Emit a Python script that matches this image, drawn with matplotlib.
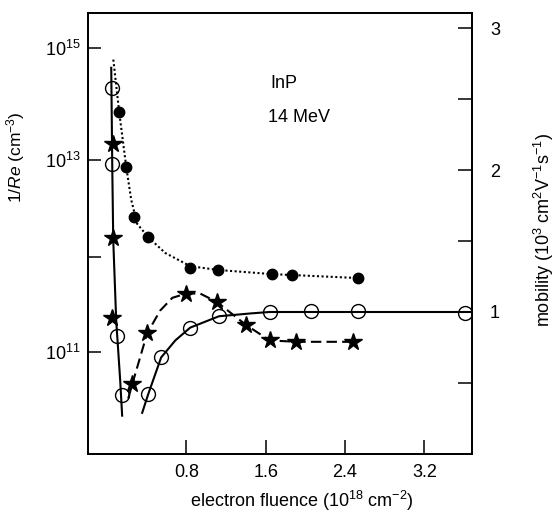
import numpy as np
import matplotlib
matplotlib.use('Agg')
import matplotlib.pyplot as plt
from matplotlib.ticker import NullLocator

plt.rcParams['font.family'] = ['Liberation Sans', 'DejaVu Sans']
plt.rcParams['mathtext.fontset'] = 'custom'
plt.rcParams['mathtext.rm'] = 'Liberation Sans'
plt.rcParams['mathtext.it'] = 'Liberation Sans:italic'

# 1/Re (filled circles, left axis) and its dotted fit
re_x = [0.124, 0.195, 0.275, 0.416, 0.84, 1.12, 1.66, 1.87, 2.53]
re_y = [7.2e13, 8.5e12, 2.6e12, 1.6e12, 7.6e11, 7.3e11, 6.6e11, 6.5e11, 6.0e11]
re_fit_x = [0.065, 0.124, 0.195, 0.245, 0.305, 0.416, 0.588, 0.84, 1.12, 1.66, 2.53]
re_fit_y = [6.2e14, 7.2e13, 8.5e12, 3.9e12, 2.2e12, 1.6e12, 1.1e12, 8.0e11, 7.3e11, 6.6e11, 6.0e11]

# mobility, open circles (right axis)
open_x = [0.054, 0.054, 0.104, 0.154, 0.416, 0.547, 0.84, 1.13, 1.64, 2.06, 2.53, 3.61]
open_y = [2.58, 2.04, 0.83, 0.415, 0.42, 0.68, 0.89, 0.97, 1.0, 1.01, 1.01, 0.99]
# solid fit: falling branch and rising branch
fall_x = [0.044, 0.054, 0.064, 0.094, 0.134, 0.154]
fall_y = [2.72, 2.04, 1.51, 0.94, 0.52, 0.27]
rise_x = [0.356, 0.416, 0.547, 0.69, 0.84, 1.13, 1.45, 1.64, 3.68]
rise_y = [0.29, 0.42, 0.68, 0.80, 0.89, 0.97, 0.99, 1.0, 1.0]

# mobility, stars (right axis) and dashed fit
star_x = [0.064, 0.064, 0.054, 0.255, 0.406, 0.80, 1.11, 1.40, 1.64, 1.91, 2.48]
star_y = [2.18, 1.52, 0.96, 0.49, 0.85, 1.13, 1.07, 0.91, 0.80, 0.79, 0.79]
star_fit_x = [0.215, 0.255, 0.406, 0.537, 0.66, 0.80, 0.94, 1.11, 1.40, 1.64, 1.91, 2.48]
star_fit_y = [0.39, 0.49, 0.85, 1.01, 1.10, 1.13, 1.13, 1.07, 0.91, 0.80, 0.79, 0.79]

# the printed 1/Re axis is not evenly spaced per decade
decades = [8.0, 11.0, 12.0, 13.0, 15.0, 17.0]
spacing = [-183, 102, 197, 294, 406, 518]


def fwd(y):
    return np.interp(np.log10(np.clip(y, 1e-30, None)), decades, spacing)


def inv(u):
    return 10 ** np.interp(u, spacing, decades)


fig = plt.figure(figsize=(5.55, 5.17), dpi=100)
ax = fig.add_axes([0.1586, 0.1219, 0.6919, 0.853])
ax2 = ax.twinx()

ax.set_yscale('function', functions=(fwd, inv))
ax.set_ylim(10 ** 9.926, 10 ** 15.625)
ax.set_xlim(-0.19, 3.68)
ax2.set_ylim(0, 3.106)

ax.plot(re_fit_x, re_fit_y, color='black', lw=1.5, ls=(0, (1, 1.2)))
ax.plot(re_x, re_y, 'o', color='black', ms=7.5)

ax2.plot(fall_x, fall_y, color='black', lw=1.5)
ax2.plot(rise_x, rise_y, color='black', lw=1.5)
ax2.plot(star_fit_x, star_fit_y, color='black', lw=1.5, ls=(0, (5, 2.5)))
ax2.plot(open_x, open_y, 'o', mfc='none', mec='black', mew=1.0, ms=10)
ax2.plot(star_x, star_y, '*', color='black', ms=13)

ax.set_xticks([0.8, 1.6, 2.4, 3.2])
ax.set_xticklabels(['0.8', '1.6', '2.4', '3.2'])
ax.set_yticks([1e11, 1e12, 1e13, 1e15])
ax.set_yticklabels(['$10^{11}$', '', '$10^{13}$', '$10^{15}$'])
ax.yaxis.set_minor_locator(NullLocator())
ax.xaxis.set_minor_locator(NullLocator())
ax2.set_yticks([0.5, 1, 1.5, 2, 2.5, 3])
ax2.set_yticklabels(['', '1', '', '2', '', '3'])

ax.tick_params(axis='y', direction='in', length=9, width=1.1, pad=5, labelsize=13)
ax.tick_params(axis='x', direction='in', length=10, width=1.1, pad=7, labelsize=13, top=False)
ax2.tick_params(axis='y', direction='in', length=10, width=1.1, pad=13, labelsize=13)

for a in (ax, ax2):
    for s in a.spines.values():
        s.set_linewidth(1.3)

ax.set_xlabel(r'electron fluence (10$^{18}$ cm$^{-2}$)', fontsize=13)
ax.xaxis.set_label_coords(0.557, -0.079)
ax.set_ylabel(r'$\mathit{1/Re}$ (cm$^{-3}$)', fontsize=12.5)
ax.yaxis.set_label_coords(-0.16, 0.673)
ax2.set_ylabel(r'mobility (10$^3$ cm$^2$V$^{-1}$s$^{-1}$)', fontsize=13)
ax2.yaxis.set_label_coords(1.156, 0.508)

ax.text(0.474, 0.839, 'InP', transform=ax.transAxes, fontsize=13, va='center')
ax.text(0.469, 0.764, '14 MeV', transform=ax.transAxes, fontsize=13, va='center')

fig.savefig('out.png', dpi=100)
